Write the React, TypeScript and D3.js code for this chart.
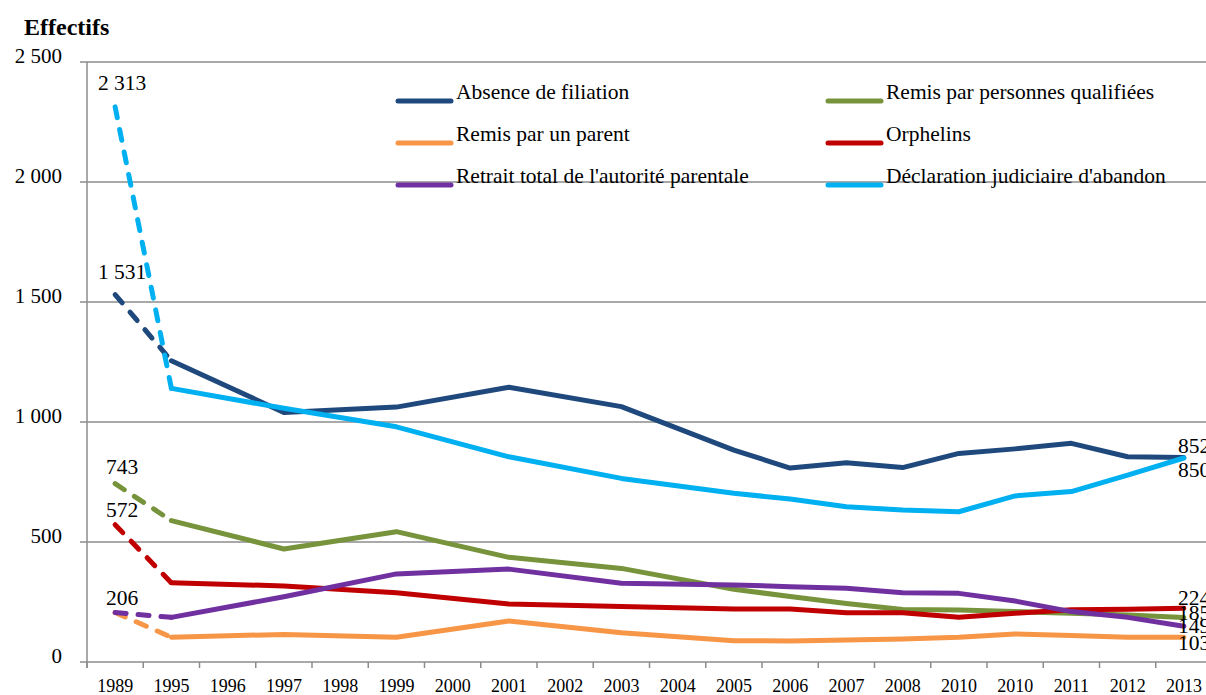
import React from "react";
import * as d3 from "d3";

const categories = ["1989","1995","1996","1997","1998","1999","2000","2001","2002","2003","2004","2005","2006","2007","2008","2010","2010","2011","2012","2013"];

const absence = [1531,1255,null,1040,null,1062,null,1145,null,1064,null,883,808,830,810,869,888,911,855,852];
const qualifiees = [743,589,null,471,null,543,null,436,null,390,null,303,273,244,219,217,210,203,196,185];
const parent = [206,103,null,115,null,103,null,171,null,122,null,89,88,92,96,103,117,110,103,103];
const orphelins = [572,330,null,317,null,289,null,242,null,231,null,221,221,205,205,186,203,218,220,224];
const retrait = [206,186,null,272,null,367,null,387,null,328,null,321,314,307,289,286,254,210,186,149];
const declaration = [2313,1140,null,1057,null,980,null,855,null,765,null,703,679,647,633,626,692,710,779,850];

const yTicks = [0, 500, 1000, 1500, 2000, 2500];
const yTickLabels = ["0", "500", "1 000", "1 500", "2 000", "2 500"];

type Series = { name: string; values: (number | null)[]; color: string; startLabel?: string; endLabel: string };

const series: Series[] = [
  { name: "Absence de filiation", values: absence, color: "#1F497D", startLabel: "1 531", endLabel: "852" },
  { name: "Remis par personnes qualifiées", values: qualifiees, color: "#77933C", startLabel: "743", endLabel: "185" },
  { name: "Remis par un parent", values: parent, color: "#F79646", endLabel: "103" },
  { name: "Orphelins", values: orphelins, color: "#C00000", startLabel: "572", endLabel: "224" },
  { name: "Retrait total de l'autorité parentale", values: retrait, color: "#7030A0", startLabel: "206", endLabel: "149" },
  { name: "Déclaration judiciaire d'abandon", values: declaration, color: "#00B0F0", startLabel: "2 313", endLabel: "850" },
];

// label offsets (styling, not data)
const startOffsets: Record<string, number> = {
  "Absence de filiation": -16,
  "Remis par personnes qualifiées": -10,
  "Orphelins": -8,
  "Retrait total de l'autorité parentale": -8,
  "Déclaration judiciaire d'abandon": -17,
};
const endOffsets: Record<string, number> = {
  "Absence de filiation": -5,
  "Déclaration judiciaire d'abandon": 19,
  "Orphelins": -3,
  "Remis par personnes qualifiées": 2,
  "Retrait total de l'autorité parentale": 7,
  "Remis par un parent": 13,
};

const FONT = '"Liberation Serif", "DejaVu Serif", serif';

export default function App() {
  const W = 1206, H = 695;
  const idx = categories.map((_, i) => i);
  const x = d3.scaleBand<number>().domain(idx).range([87, 1212]).padding(0);
  const cx = (i: number) => (x(i) as number) + x.bandwidth() / 2;
  const y = d3.scaleLinear().domain([0, 2500]).range([662, 62]);

  const line = d3
    .line<{ i: number; v: number }>()
    .x((d) => cx(d.i))
    .y((d) => y(d.v));

  const tstyle = { fontFamily: FONT };
  return (
    <svg width={W} height={H} style={{ position: "absolute", left: 0, top: 0, background: "#fff", fontFamily: FONT }}>
      <rect x={0} y={0} width={W} height={H} fill="#fff" />
      <text x={24} y={35} fontSize={24} fontWeight="bold" fill="#000" style={tstyle}>Effectifs</text>
      {yTicks.map((t, k) => (
        <g key={k}>
          <line x1={80} x2={1212} y1={y(t)} y2={y(t)} stroke="#8c8c8c" strokeWidth={1.5} />
          <text x={62} y={y(t) + 1} fontSize={21} textAnchor="end" fill="#000" style={tstyle}>{yTickLabels[k]}</text>
        </g>
      ))}
      <line x1={87} x2={87} y1={62} y2={668} stroke="#8c8c8c" strokeWidth={1.5} />
      {d3.range(categories.length + 1).map((k) => {
        const xx = 87 + k * x.bandwidth();
        return <line key={k} x1={xx} x2={xx} y1={662} y2={668} stroke="#8c8c8c" strokeWidth={1.5} />;
      })}
      {categories.map((c, i) => (
        <text key={i} x={cx(i)} y={692} fontSize={18} textAnchor="middle" fill="#000" style={tstyle}>{c}</text>
      ))}
      {series.map((s, k) => {
        const col = k % 2;
        const row = Math.floor(k / 2);
        const lx = col === 0 ? 398 : 828;
        const ly = 101 + row * 42;
        return (
          <g key={s.name}>
            <line x1={lx} x2={lx + 53} y1={ly} y2={ly} stroke={s.color} strokeWidth={5} strokeLinecap="round" />
            <text x={lx + 58} y={ly - 2} fontSize={21.5} fill="#000" style={tstyle}>{s.name}</text>
          </g>
        );
      })}
      {series.map((s) => {
        const pts = s.values
          .map((v, i) => ({ i, v }))
          .filter((d) => d.v !== null) as { i: number; v: number }[];
        const dashed = line(pts.slice(0, 2)) || "";
        const solid = line(pts.slice(1)) || "";
        return (
          <g key={s.name}>
            <path d={dashed} fill="none" stroke={s.color} strokeWidth={5} strokeDasharray="11 12" strokeLinecap="round" />
            <path d={solid} fill="none" stroke={s.color} strokeWidth={5} strokeLinejoin="round" strokeLinecap="round" />
          </g>
        );
      })}
      {series.map((s) => {
        const first = s.values[0] as number;
        const last = s.values[s.values.length - 1] as number;
        const li = s.values.length - 1;
        return (
          <g key={s.name + "l"}>
            {s.startLabel && (
              <text x={cx(0) + 7} y={y(first) + (startOffsets[s.name] || 0)} fontSize={21.5} textAnchor="middle" fill="#000" style={tstyle}>
                {s.startLabel}
              </text>
            )}
            <text x={cx(li) - 6} y={y(last) + (endOffsets[s.name] || 0)} fontSize={21.5} textAnchor="start" fill="#000" style={tstyle}>
              {s.endLabel}
            </text>
          </g>
        );
      })}
    </svg>
  );
}
